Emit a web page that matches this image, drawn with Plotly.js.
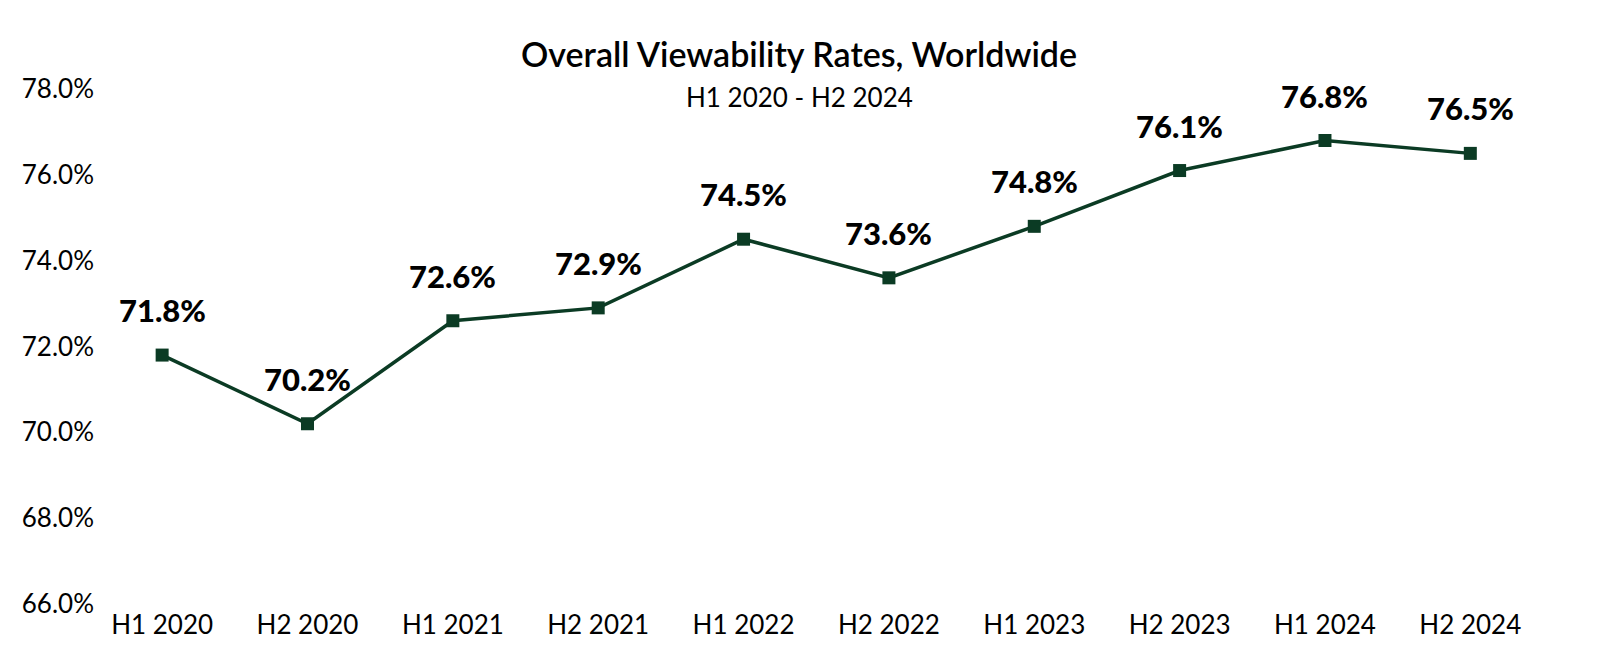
<!DOCTYPE html>
<html>
<head>
<meta charset="utf-8">
<script src="https://cdn.plot.ly/plotly-3.0.1.min.js"></script>
<style>html,body{margin:0;padding:0;background:#fff;}#chart{width:1600px;height:665px;}</style>
</head>
<body>
<div id="chart"></div>
<script>
const categories = ["H1 2020","H2 2020","H1 2021","H2 2021","H1 2022","H2 2022","H1 2023","H2 2023","H1 2024","H2 2024"];
const viewability = [71.8, 70.2, 72.6, 72.9, 74.5, 73.6, 74.8, 76.1, 76.8, 76.5];
const yTickValues = [66, 68, 70, 72, 74, 76, 78];
const yTickLabels = ["66.0%","68.0%","70.0%","72.0%","74.0%","76.0%","78.0%"];
const chartTitle = "Overall Viewability Rates, Worldwide";
const chartSubtitle = "H1 2020 - H2 2024";

const green = "#0b3b24";
const fontFam = "Lato, 'Noto Sans', sans-serif";

const trace = {
  x: categories,
  y: viewability,
  type: "scatter",
  mode: "lines+markers",
  line: {color: green, width: 3.5},
  marker: {symbol: "square", size: 13, color: green},
  hoverinfo: "skip"
};

const annotations = categories.map((c, i) => ({
  x: c, y: viewability[i], xref: "x", yref: "y",
  text: viewability[i].toFixed(1) + "%",
  showarrow: false, yshift: 45,
  font: {family: fontFam, size: 31, color: "#000", weight: 900}
}));
annotations.push({
  x: 0.483, y: 1, xref: "paper", yref: "paper", yanchor: "middle",
  text: chartTitle, showarrow: false, yshift: 36,
  font: {family: fontFam, size: 34, color: "#000", weight: 600}
});
annotations.push({
  x: 0.483, y: 1, xref: "paper", yref: "paper", yanchor: "middle",
  text: chartSubtitle, showarrow: false, yshift: -8,
  font: {family: fontFam, size: 26, color: "#000"}
});

const layout = {
  width: 1600, height: 665,
  margin: {l: 104, r: 57, t: 89, b: 61},
  paper_bgcolor: "#fff", plot_bgcolor: "#fff",
  showlegend: false,
  xaxis: {
    type: "category", range: [-0.4, 9.5],
    showgrid: false, zeroline: false, showline: false, ticks: "",
    tickfont: {family: fontFam, size: 26, color: "#000"},
    ticklabelstandoff: 3
  },
  yaxis: {
    range: [66, 78], tickvals: yTickValues, ticktext: yTickLabels,
    showgrid: false, zeroline: false, showline: false, ticks: "",
    tickfont: {family: fontFam, size: 26, color: "#000"},
    ticklabelstandoff: 9
  },
  annotations: annotations
};

Plotly.newPlot("chart", [trace], layout, {staticPlot: true, displayModeBar: false});
</script>
</body>
</html>
